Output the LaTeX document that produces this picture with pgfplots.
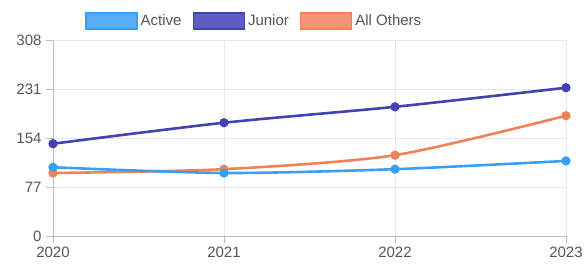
\documentclass[border=0pt]{standalone}
\usepackage{fontspec}
\setmainfont{Liberation Sans}
\usepackage{pgfplots}
\pgfplotsset{compat=1.18}
\definecolor{activeC}{HTML}{3A9FF0}
\definecolor{juniorC}{HTML}{4242B2}
\definecolor{othersC}{HTML}{F0825A}
\definecolor{gridC}{HTML}{E8E8EC}
\definecolor{axisC}{HTML}{BBBBBB}
\definecolor{textC}{HTML}{555555}
\begin{document}
\begin{tikzpicture}
\begin{axis}[
  scale only axis,
  width=513bp, height=196bp,
  xmin=2020, xmax=2023,
  ymin=0, ymax=308,
  xtick={2020,2021,2022,2023},
  ytick={0,77,154,231,308},
  xticklabel style={/pgf/number format/1000 sep={}},
  /pgf/number format/assume math mode=true,
  axis lines=left,
  axis line style={axisC, line width=0.8pt, -},
  grid=major,
  major grid style={gridC, line width=0.8pt},
  tick style={axisC, line width=0.8pt},
  major tick length=7bp,
  tick align=outside,
  ticklabel style={font=\fontsize{15bp}{17bp}\selectfont, text=textC},
  yticklabel style={xshift=-1bp},
  xticklabel style={yshift=-1bp},
  legend style={at={(0.0565,1.097)}, anchor=west, draw=none, fill=none,
    font=\fontsize{15bp}{17bp}\selectfont, text=textC,
    /tikz/every even column/.append style={column sep=8bp},
    nodes={inner xsep=3bp}},
  legend columns=-1,
  every axis plot/.append style={line width=2.6pt, smooth, tension=0.45, mark=*, mark size=3.3pt, mark options={solid}},
  clip=false,
]
\addplot[color=juniorC, forget plot] coordinates {(2020,145) (2021,178) (2022,203) (2023,233)};
\addplot[color=othersC, forget plot] coordinates {(2020,99) (2021,105) (2022,127) (2023,189)};
\addplot[color=activeC, forget plot] coordinates {(2020,108) (2021,99) (2022,105) (2023,118)};
\addlegendimage{legend image code/.code={\draw[draw=activeC, fill=activeC!85, line width=1.5pt] (0bp,-8bp) rectangle (51bp,8bp);}}
\addlegendentry{Active}
\addlegendimage{legend image code/.code={\draw[draw=juniorC, fill=juniorC!85, line width=1.5pt] (0bp,-8bp) rectangle (51bp,8bp);}}
\addlegendentry{Junior}
\addlegendimage{legend image code/.code={\draw[draw=othersC, fill=othersC!85, line width=1.5pt] (0bp,-8bp) rectangle (51bp,8bp);}}
\addlegendentry{All Others}
\end{axis}
\path[use as bounding box] (-53bp,-29bp) rectangle (533bp,236bp);
\end{tikzpicture}
\end{document}
